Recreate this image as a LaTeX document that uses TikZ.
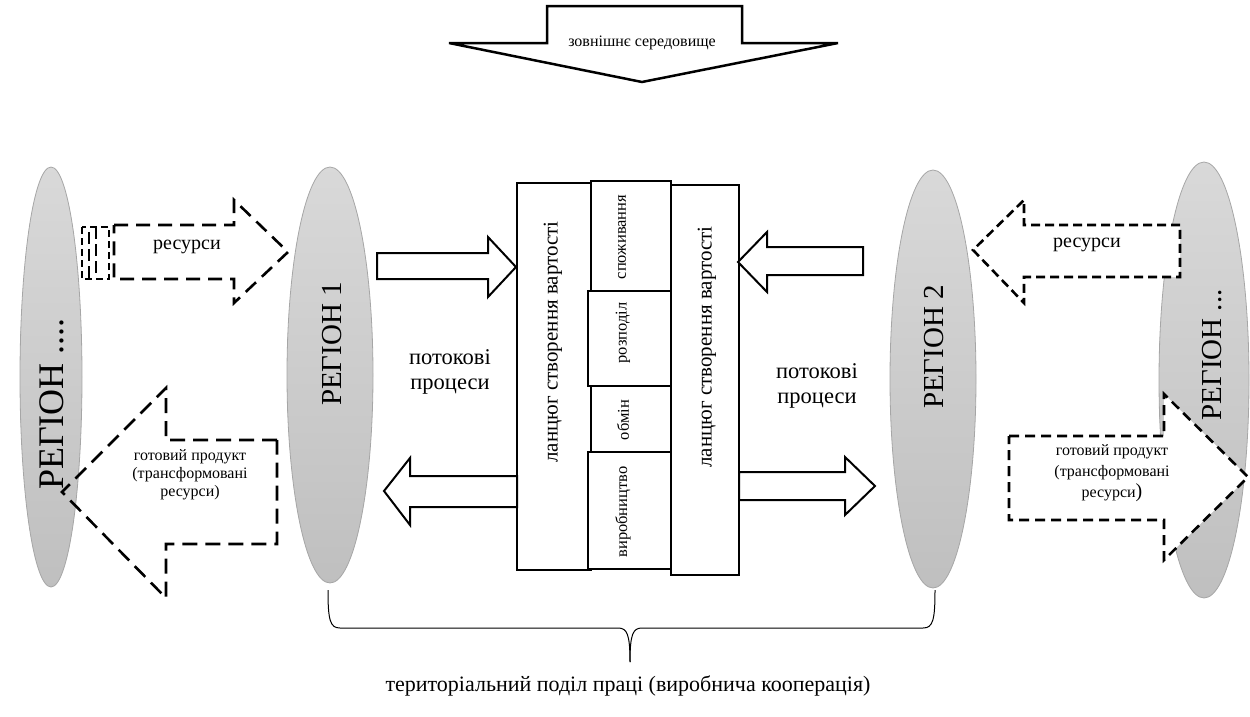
\documentclass[tikz,border=0pt]{standalone}
\usepackage{fontspec}
\setmainfont{Liberation Serif}
\usetikzlibrary{shapes.geometric}
\begin{document}
\begin{tikzpicture}[x=1pt,y=-1pt,
  regionshape/.style={ellipse, draw=gray!70, line width=0.8pt, top color=gray!30, bottom color=gray!50, inner sep=0pt},
  chainbox/.style={draw, line width=2.5pt, inner sep=0pt, fill=white},
  blockarrow/.style={draw, line width=2pt, fill=white, line join=miter},
  dasharrow/.style={draw, line width=2.6pt, line join=miter},
  vtext/.style={rotate=90, inner sep=0pt},
  regfont/.style={font=\fontsize{29}{32}\selectfont},
  chainfont/.style={font=\fontsize{21}{24}\selectfont},
  flowfont/.style={font=\fontsize{22.5}{26}\selectfont},
  smallfont/.style={font=\fontsize{16.5}{18}\selectfont},
]
\useasboundingbox (0,0) rectangle (1250,716);

% regions
\node[regionshape, minimum width=62pt, minimum height=420pt] (rl) at (51,377) {};
\node[regionshape, minimum width=86pt, minimum height=416pt] (r1) at (330,375) {};
\node[regionshape, minimum width=86pt, minimum height=418pt] (r2) at (933,379) {};
\node[regionshape, minimum width=90pt, minimum height=436pt] (rr) at (1204,380) {};
\node[vtext, font=\fontsize{36}{40}\selectfont] (rlt) at (52,404) {РЕГІОН ....};
\node[vtext, regfont] (r1t) at (332,344) {РЕГІОН 1};
\node[vtext, regfont] (r2t) at (934,347) {РЕГІОН 2};
\node[vtext, regfont] (rrt) at (1212,355) {РЕГІОН ...};

% top arrow
\draw[line width=2.5pt, line join=miter, fill=white] (547,6) -- (742,6) -- (742,43) -- (838,43) -- (642,82) -- (449,43) -- (547,43) -- cycle;
\node[font=\fontsize{16}{18}\selectfont] (env) at (642,43) {зовнішнє середовище};

% central chain
\node[chainbox, minimum width=74pt, minimum height=387pt] (lchain) at (554,376.5) {};
\node[chainbox, minimum width=68pt, minimum height=390pt] (rchain) at (705,380) {};
\node[chainbox, minimum width=80pt, minimum height=110pt] (cons) at (631,236) {};
\node[chainbox, minimum width=83pt, minimum height=95pt] (dist) at (629.5,338.5) {};
\node[chainbox, minimum width=80pt, minimum height=66pt] (exch) at (631,419) {};
\node[chainbox, minimum width=83pt, minimum height=117pt] (prod) at (629.5,510.5) {};
\node[vtext, chainfont] (lchaint) at (553,342) {ланцюг створення вартості};
\node[vtext, chainfont] (rchaint) at (707,347) {ланцюг створення вартості};
\node[vtext, smallfont] (const) at (622,237) {споживання};
\node[vtext, smallfont] (distt) at (623,333) {розподіл};
\node[vtext, smallfont] (exct) at (623,420) {обмін};
\node[vtext, smallfont] (prodt) at (623,512) {виробництво};

% block arrows
\draw[blockarrow] (377,253) -- (488,253) -- (488,237) -- (516,267) -- (488,297) -- (488,279) -- (377,279) -- cycle;
\draw[blockarrow] (863,247) -- (767,247) -- (767,232) -- (738,262) -- (767,292) -- (767,275) -- (863,275) -- cycle;
\draw[blockarrow] (517,476) -- (410,476) -- (410,458) -- (384,491) -- (410,525) -- (410,507) -- (517,507) -- cycle;
\draw[blockarrow] (739,472) -- (845,472) -- (845,457) -- (875,486) -- (845,515) -- (845,500) -- (739,500) -- cycle;

\node[flowfont, align=center] (flowl) at (450,372) {потокові\\[-1pt]процеси};
\node[flowfont, align=center] (flowr) at (817,386) {потокові\\[-1pt]процеси};

% dashed arrows
\draw[dasharrow, fill=white, dash pattern=on 14pt off 8pt] (114,225) -- (234,225) -- (234,200) -- (288,252) -- (234,303) -- (234,279) -- (114,279) -- cycle;
\draw[dasharrow, fill=white, dash pattern=on 7pt off 4pt] (82,227) rectangle (109,279);
\draw[dasharrow, dash pattern=on 12pt off 5pt] (89,232) -- (89,279);
\draw[dasharrow, dash pattern=on 12pt off 5pt] (96,227) -- (96,275);
\node[font=\fontsize{20}{22}\selectfont] (resl) at (187,247) {ресурси};

\draw[dasharrow, fill=white, dash pattern=on 9pt off 5pt] (1180,225) -- (1024,225) -- (1024,200) -- (973,250) -- (1024,303) -- (1024,277) -- (1180,277) -- cycle;
\node[font=\fontsize{20}{22}\selectfont] (resr) at (1087,245) {ресурси};

\draw[dasharrow, dash pattern=on 15pt off 8pt] (277,440) -- (166,440) -- (166,388) -- (62,492) -- (166,598) -- (166,544) -- (277,544) -- cycle;
\node[font=\fontsize{16}{18}\selectfont, align=center] (prodl) at (190,475) {готовий продукт\\(трансформовані\\ресурси)};

\draw[dasharrow, fill=white, dash pattern=on 10pt off 6pt] (1009,436) -- (1164,436) -- (1164,394) -- (1248,477) -- (1164,560) -- (1164,520) -- (1009,520) -- cycle;
\node[font=\fontsize{16}{21}\selectfont, align=center] (prodr) at (1112,473) {готовий продукт\\(трансформовані\\ресурси{\fontsize{20}{21}\selectfont)}};

% brace
\coordinate (bl) at (328,590);
\coordinate (br) at (935,590);
\coordinate (btip) at (630,662);
\draw[line width=1pt] (bl) .. controls (328,620) and (330,628) .. (340,628) -- (618,628) .. controls (627,628) and (630,634) .. (btip);
\draw[line width=1pt] (btip) .. controls (630,634) and (633,628) .. (642,628) -- (923,628) .. controls (933,628) and (935,620) .. (br);
\node[font=\fontsize{22}{24}\selectfont] (div) at (628,686) {територіальний поділ праці (виробнича кооперація)};
\end{tikzpicture}
\end{document}
